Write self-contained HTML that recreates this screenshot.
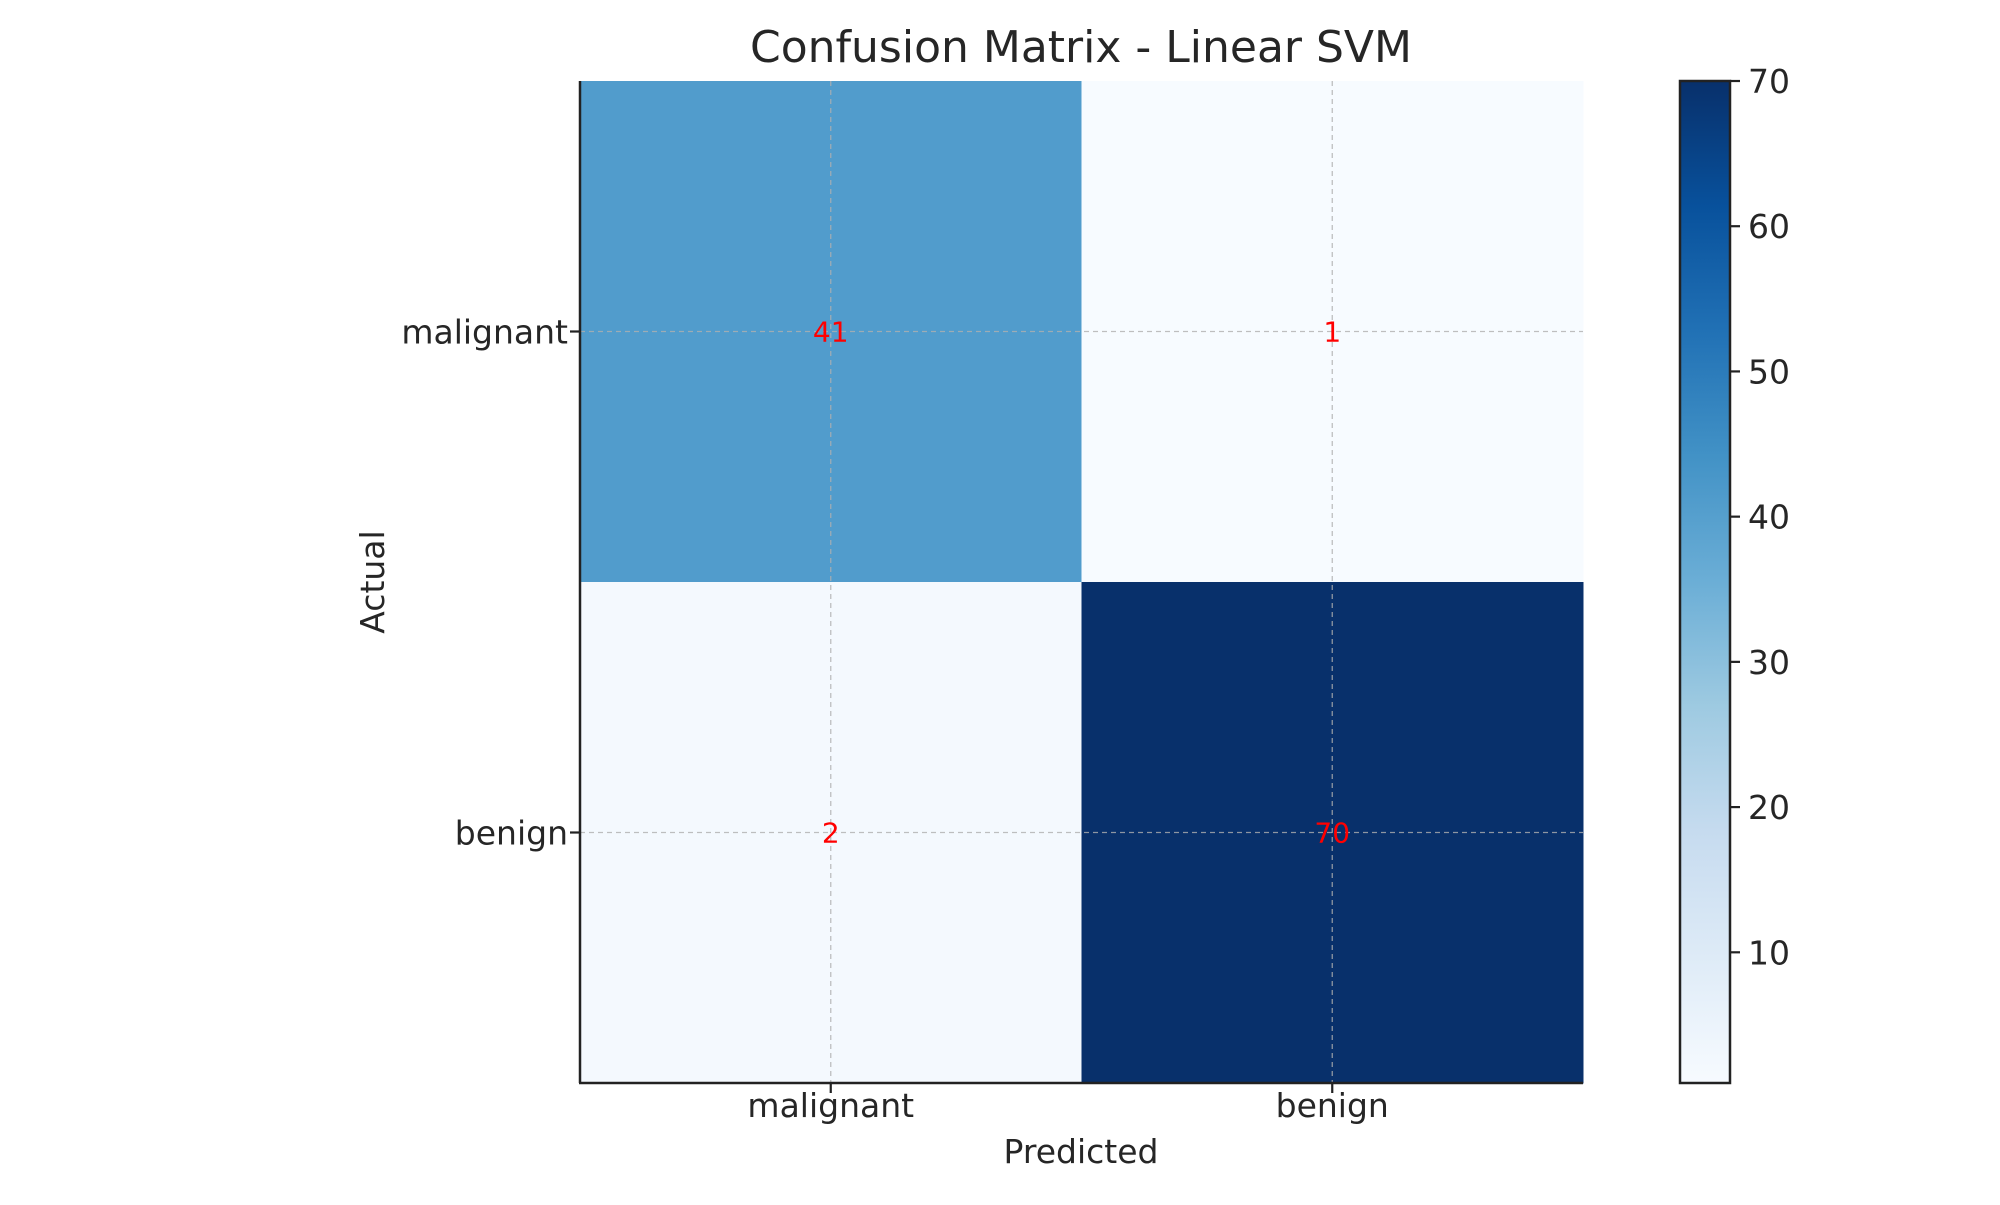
<!DOCTYPE html>
<html><head><meta charset="utf-8"><style>
body{margin:0;background:#fff;}
svg text{font-family:"DejaVu Sans","Liberation Sans",sans-serif;fill:#262626;}
</style></head><body>
<svg id="chart" width="2000" height="1200" xmlns="http://www.w3.org/2000/svg">
<defs><linearGradient id="blues" x1="0" y1="1" x2="0" y2="0">
<stop offset="0" stop-color="#f7fbff"/><stop offset="0.125" stop-color="#deebf7"/><stop offset="0.25" stop-color="#c6dbef"/><stop offset="0.375" stop-color="#9ecae1"/><stop offset="0.5" stop-color="#6baed6"/><stop offset="0.625" stop-color="#4292c6"/><stop offset="0.75" stop-color="#2171b5"/><stop offset="0.875" stop-color="#08519c"/><stop offset="1" stop-color="#08306b"/>
</linearGradient></defs>
<text x="1081" y="62" font-size="44" text-anchor="middle">Confusion Matrix - Linear SVM</text>
<g id="cells"></g><g id="grid"></g><g id="annots"></g>
<line x1="580" y1="81" x2="580" y2="1083" stroke="#222" stroke-width="2.5"/>
<line x1="579" y1="1083" x2="1583" y2="1083" stroke="#222" stroke-width="2.5"/>
<g id="ticks"></g>
<text x="1081" y="1163" font-size="33" text-anchor="middle">Predicted</text>
<text transform="translate(384,582) rotate(-90)" font-size="33" text-anchor="middle">Actual</text>
<rect x="1680" y="81" width="50" height="1002" fill="url(#blues)" stroke="#222" stroke-width="2.5"/>
<g id="cbticks"></g>
</svg>
<script>
const labels = ["malignant","benign"];
const row0 = [41, 1];
const row1 = [2, 70];
const cbTicks = [10,20,30,40,50,60,70];
const vmin = 1, vmax = 70;
const L=580,T=81,W=1003,H=1002,CB=1680;
const stops=["#f7fbff","#deebf7","#c6dbef","#9ecae1","#6baed6","#4292c6","#2171b5","#08519c","#08306b"].map(h=>[1,3,5].map(i=>parseInt(h.substr(i,2),16)));
function cmap(v){let t=Math.max(0,Math.min(1,(v-vmin)/(vmax-vmin)))*8;let i=Math.min(7,Math.floor(t));let f=t-i;
const c=stops[i].map((a,k)=>Math.round(a+(stops[i+1][k]-a)*f));return `rgb(${c})`;}
const n=labels.length,cw=W/n,ch=H/n;
const xc=j=>L+cw*(j+0.5), yc=i=>T+ch*(i+0.5);
const NS="http://www.w3.org/2000/svg";
function mk(tag,attrs,parent,txt){const e=document.createElementNS(NS,tag);for(const k in attrs)e.setAttribute(k,attrs[k]);if(txt!==undefined)e.textContent=txt;document.getElementById(parent).appendChild(e);return e;}
[row0,row1].forEach((row,i)=>row.forEach((v,j)=>{
 const r=mk('rect',{x:L+cw*j,y:T+ch*i,width:cw+0.5,height:ch+0.5,fill:cmap(v)},'cells');
 
 
 const t=mk('text',{x:xc(j),y:yc(i)+10,'font-size':28,'text-anchor':'middle',style:'fill:#ff0000'},'annots',v);
 
 
}));
labels.forEach((lab,k)=>{
 const gv=mk('line',{x1:xc(k),x2:xc(k),y1:T,y2:T+H,stroke:'#b0b0b0','stroke-width':1.3,'stroke-dasharray':'5,4',opacity:0.8},'grid');
 
 
 const gh=mk('line',{x1:L,x2:L+W,y1:yc(k),y2:yc(k),stroke:'#b0b0b0','stroke-width':1.3,'stroke-dasharray':'5,4',opacity:0.8},'grid');
 
 
 mk('line',{x1:xc(k),x2:xc(k),y1:T+H,y2:T+H+10,stroke:'#222','stroke-width':2.2},'ticks');
 mk('line',{x1:L-10,x2:L,y1:yc(k),y2:yc(k),stroke:'#222','stroke-width':2.2},'ticks');
 const xt=mk('text',{x:xc(k),y:1117,'font-size':33,'text-anchor':'middle'},'ticks',lab);
 
 
 const yt=mk('text',{x:568,y:yc(k)+12,'font-size':33,'text-anchor':'end'},'ticks',lab);
 
 
});
cbTicks.forEach(v=>{
 const y=T+H-(v-vmin)/(vmax-vmin)*H;
 mk('line',{x1:CB+50,x2:CB+60,y1:y,y2:y,stroke:'#222','stroke-width':2.2},'cbticks');
 const t=mk('text',{x:CB+68,y:y+12,'font-size':33},'cbticks',v);
 
 
});
</script>
</body></html>
